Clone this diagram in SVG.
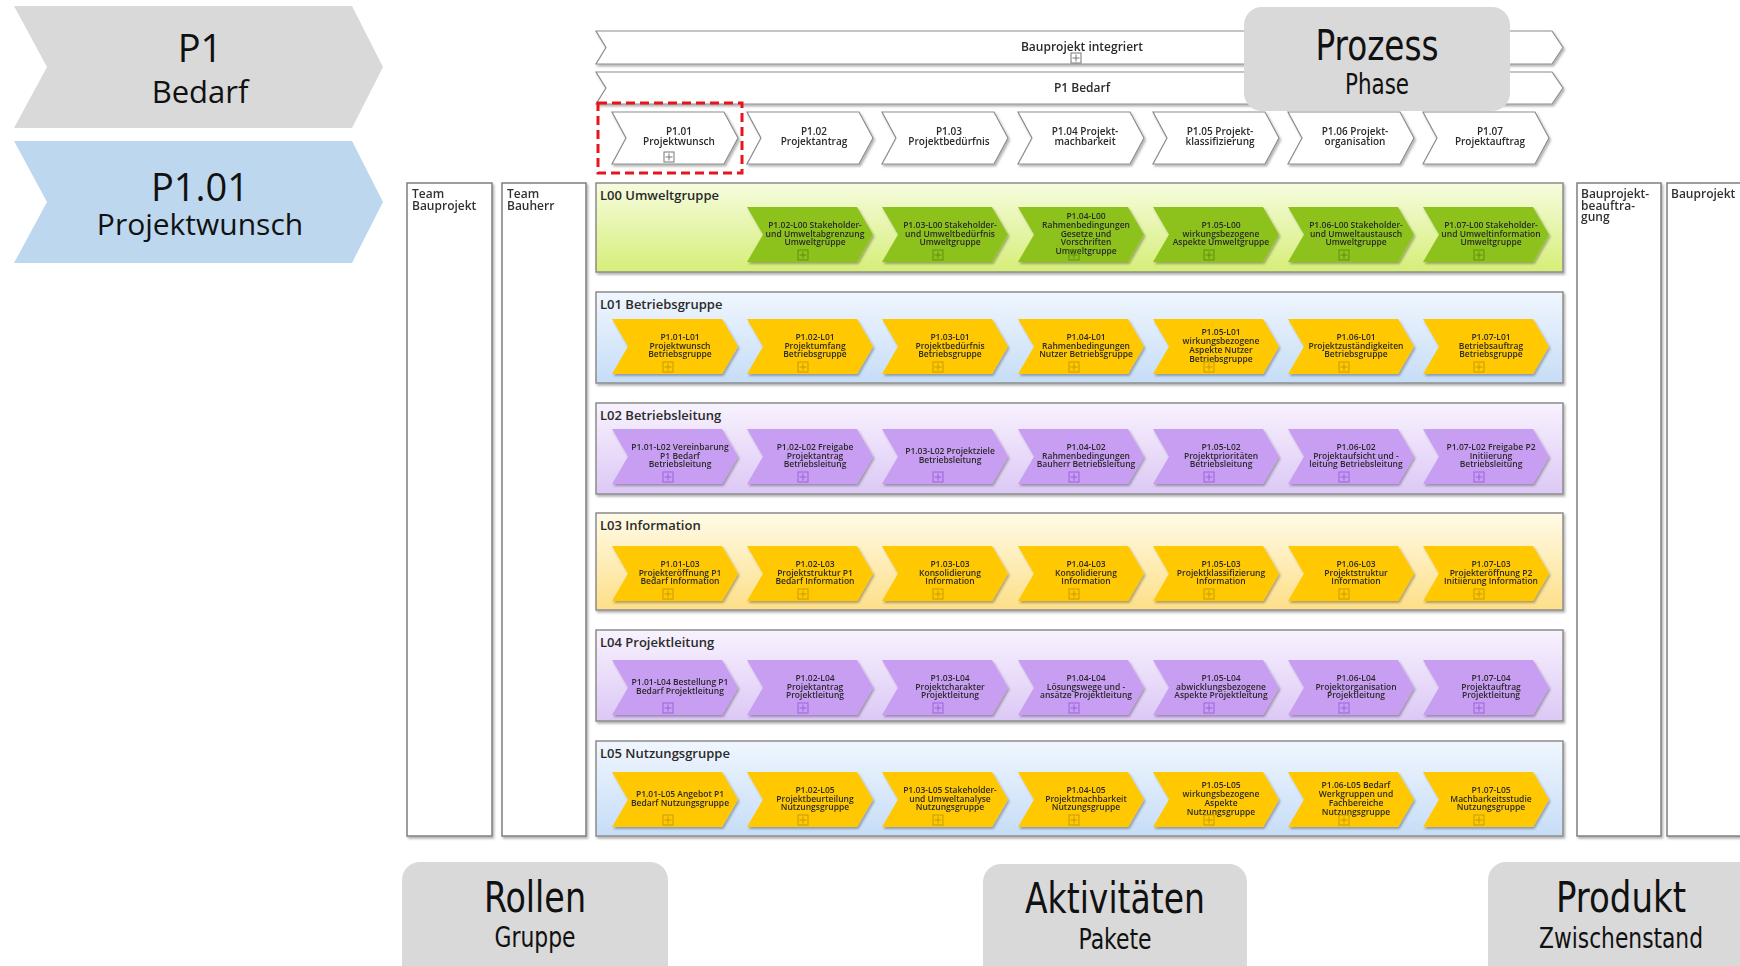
<svg xmlns="http://www.w3.org/2000/svg" xmlns:xlink="http://www.w3.org/1999/xlink" width="1740" height="966" viewBox="0 0 1740 966">
<style>
.big{font-family:"Open Sans","Noto Sans",sans-serif;fill:#111;text-anchor:middle}
.cond{font-family:"Liberation Sans Narrow","DejaVu Sans Condensed","Roboto Condensed","Open Sans",sans-serif;font-stretch:condensed;fill:#111;text-anchor:middle}
.t{font-family:"Open Sans","Noto Sans",sans-serif;font-size:8.5px;font-weight:600;fill:#2a2a2a;text-anchor:middle}
.th{font-family:"Open Sans","Noto Sans",sans-serif;font-size:10px;font-weight:600;fill:#2a2a2a;text-anchor:middle}
.thl{font-family:"Open Sans","Noto Sans",sans-serif;font-size:12px;font-weight:600;fill:#2a2a2a;text-anchor:middle}
.lbl{font-family:"Open Sans","Noto Sans",sans-serif;font-size:13px;font-weight:600;fill:#2a2a2a}
.role{font-family:"Open Sans","Noto Sans",sans-serif;font-size:12px;font-weight:600;fill:#333}
.rbox{fill:#fff;stroke:#7f7f7f;stroke-width:1.5}
.lane{stroke:#8c8c8c;stroke-width:1.5}
.wh{fill:#fff;stroke:#8c8c8c;stroke-width:1.2}
.g{fill:#8dc21f}
.y{fill:#ffc800}
.p{fill:#c89ef2}
.ig{stroke:#5f8f0a;fill:none}
.iy{stroke:#c79a00;fill:none}
.ip{stroke:#9b63dd;fill:none}
.iw{stroke:#777;fill:none}
.card{fill:#d9d9d9}
</style>
<defs>
<filter id="sh" x="-10%" y="-10%" width="130%" height="140%"><feDropShadow dx="1.5" dy="2" stdDeviation="1" flood-color="#000" flood-opacity="0.3"/></filter>
<path id="chev" d="M0,0 H110 L126,27.5 L110,55 H0 L16,27.5 Z"/>
<path id="hchev" d="M0,0 H112 L126,26 L112,52 H0 L14,26 Z"/>
<g id="plus"><rect x="0" y="0" width="10" height="10" stroke-width="1"/><path d="M5,1.5V8.5M1.5,5H8.5" stroke-width="1"/></g>
<linearGradient id="gG" x1="0" y1="0" x2="0" y2="1"><stop offset="0" stop-color="#f6fcdf"/><stop offset="1" stop-color="#d6ee78"/></linearGradient>
<linearGradient id="gB" x1="0" y1="0" x2="0" y2="1"><stop offset="0" stop-color="#f0f6fe"/><stop offset="1" stop-color="#c6ddf7"/></linearGradient>
<linearGradient id="gP" x1="0" y1="0" x2="0" y2="1"><stop offset="0" stop-color="#f8f2fe"/><stop offset="1" stop-color="#dcc8f5"/></linearGradient>
<linearGradient id="gY" x1="0" y1="0" x2="0" y2="1"><stop offset="0" stop-color="#fffbe8"/><stop offset="1" stop-color="#fddf88"/></linearGradient>
</defs>

<!-- Left phase chevrons -->
<g id="phase-P1">
<polygon points="14,6 352,6 383,67 352,128 14,128 47,67" fill="#d9d9d9"/>
<text class="big" x="200" y="62" font-size="38">P1</text>
<text class="big" x="200" y="103" font-size="31">Bedarf</text>
</g>
<g id="phase-P1-01">
<polygon points="14,141 352,141 383,202 352,263 14,263 47,202" fill="#bdd7ee"/>
<text class="big" x="200" y="201" font-size="38">P1.01</text>
<text class="big" x="200" y="235" font-size="30">Projektwunsch</text>
</g>

<!-- Header chevrons -->
<g id="hdr-bauprojekt" filter="url(#sh)">
<path class="wh" d="M596,31 H1552 L1563,47.5 L1552,64 H596 L606,47.5 Z"/>
<text class="thl" x="1082" y="51">Bauprojekt integriert</text>
<use href="#plus" class="iw" x="1071" y="53"/>
</g>
<g id="hdr-p1" filter="url(#sh)">
<path class="wh" d="M596,72 H1552 L1563,88 L1552,104 H596 L606,88 Z"/>
<text class="thl" x="1082" y="92">P1 Bedarf</text>
</g>

<g id="hdr-sub" filter="url(#sh)">
<g id="h1" transform="translate(612,112)"><use href="#hchev" class="wh"/><text class="th"><tspan x="67" y="23">P1.01</tspan><tspan x="67" dy="10">Projektwunsch</tspan></text><use href="#plus" class="iw" x="52" y="40"/></g>
<g id="h2" transform="translate(747,112)"><use href="#hchev" class="wh"/><text class="th"><tspan x="67" y="23">P1.02</tspan><tspan x="67" dy="10">Projektantrag</tspan></text></g>
<g id="h3" transform="translate(882,112)"><use href="#hchev" class="wh"/><text class="th"><tspan x="67" y="23">P1.03</tspan><tspan x="67" dy="10">Projektbedürfnis</tspan></text></g>
<g id="h4" transform="translate(1018,112)"><use href="#hchev" class="wh"/><text class="th"><tspan x="67" y="23">P1.04 Projekt-</tspan><tspan x="67" dy="10">machbarkeit</tspan></text></g>
<g id="h5" transform="translate(1153,112)"><use href="#hchev" class="wh"/><text class="th"><tspan x="67" y="23">P1.05 Projekt-</tspan><tspan x="67" dy="10">klassifizierung</tspan></text></g>
<g id="h6" transform="translate(1288,112)"><use href="#hchev" class="wh"/><text class="th"><tspan x="67" y="23">P1.06 Projekt-</tspan><tspan x="67" dy="10">organisation</tspan></text></g>
<g id="h7" transform="translate(1423,112)"><use href="#hchev" class="wh"/><text class="th"><tspan x="67" y="23">P1.07</tspan><tspan x="67" dy="10">Projektauftrag</tspan></text></g>
</g>
<rect id="highlight" x="598" y="103" width="144" height="70" fill="none" stroke="#e8141b" stroke-width="3" stroke-dasharray="9 5"/>

<g id="card-prozess">
<rect class="card" x="1244" y="7" width="266" height="104" rx="18"/>
<text class="cond" x="1377" y="60" font-size="42" textLength="123" lengthAdjust="spacingAndGlyphs">Prozess</text>
<text class="cond" x="1377" y="94" font-size="28" textLength="64" lengthAdjust="spacingAndGlyphs">Phase</text>
</g>

<!-- Role boxes -->
<g id="role-team-bauprojekt" filter="url(#sh)"><rect class="rbox" x="407" y="183" width="85" height="653"/><text class="role"><tspan x="412" y="198">Team</tspan><tspan x="412" dy="12">Bauprojekt</tspan></text></g>
<g id="role-team-bauherr" filter="url(#sh)"><rect class="rbox" x="502" y="183" width="84" height="653"/><text class="role"><tspan x="507" y="198">Team</tspan><tspan x="507" dy="12">Bauherr</tspan></text></g>
<g id="prod-beauftragung" filter="url(#sh)"><rect class="rbox" x="1577" y="183" width="84" height="653"/><text class="role"><tspan x="1581" y="198">Bauprojekt-</tspan><tspan x="1581" dy="11.5">beauftra-</tspan><tspan x="1581" dy="11.5">gung</tspan></text></g>
<g id="prod-bauprojekt" filter="url(#sh)"><rect class="rbox" x="1667" y="183" width="90" height="653"/><text class="role"><tspan x="1671" y="198">Bauprojekt</tspan></text></g>

<!-- Lanes -->
<g id="lane-L00"><rect class="lane" x="596" y="183" width="967" height="89" fill="url(#gG)" filter="url(#sh)"/><text class="lbl" x="600" y="200">L00 Umweltgruppe</text></g>
<g id="lane-L01"><rect class="lane" x="596" y="292" width="967" height="91" fill="url(#gB)" filter="url(#sh)"/><text class="lbl" x="600" y="309">L01 Betriebsgruppe</text></g>
<g id="lane-L02"><rect class="lane" x="596" y="403" width="967" height="91" fill="url(#gP)" filter="url(#sh)"/><text class="lbl" x="600" y="420">L02 Betriebsleitung</text></g>
<g id="lane-L03"><rect class="lane" x="596" y="513" width="967" height="97" fill="url(#gY)" filter="url(#sh)"/><text class="lbl" x="600" y="530">L03 Information</text></g>
<g id="lane-L04"><rect class="lane" x="596" y="630" width="967" height="91" fill="url(#gP)" filter="url(#sh)"/><text class="lbl" x="600" y="647">L04 Projektleitung</text></g>
<g id="lane-L05"><rect class="lane" x="596" y="741" width="967" height="95" fill="url(#gB)" filter="url(#sh)"/><text class="lbl" x="600" y="758">L05 Nutzungsgruppe</text></g>

<!-- L00 activities -->
<g filter="url(#sh)">
<g id="a-L00-2" transform="translate(747,207)"><use href="#chev" class="g"/><text class="t"><tspan x="68" y="20.7">P1.02-L00 Stakeholder-</tspan><tspan x="68" dy="8.8">und Umweltabgrenzung</tspan><tspan x="68" dy="8.8">Umweltgruppe</tspan></text><use href="#plus" class="ig" x="51" y="43"/></g>
<g id="a-L00-3" transform="translate(882,207)"><use href="#chev" class="g"/><text class="t"><tspan x="68" y="20.7">P1.03-L00 Stakeholder-</tspan><tspan x="68" dy="8.8">und Umweltbedürfnis</tspan><tspan x="68" dy="8.8">Umweltgruppe</tspan></text><use href="#plus" class="ig" x="51" y="43"/></g>
<g id="a-L00-4" transform="translate(1018,207)"><use href="#chev" class="g"/><text class="t"><tspan x="68" y="11.9">P1.04-L00</tspan><tspan x="68" dy="8.8">Rahmenbedingungen</tspan><tspan x="68" dy="8.8">Gesetze und</tspan><tspan x="68" dy="8.8">Vorschriften</tspan><tspan x="68" dy="8.8">Umweltgruppe</tspan></text><use href="#plus" class="ig" x="51" y="43"/></g>
<g id="a-L00-5" transform="translate(1153,207)"><use href="#chev" class="g"/><text class="t"><tspan x="68" y="20.7">P1.05-L00</tspan><tspan x="68" dy="8.8">wirkungsbezogene</tspan><tspan x="68" dy="8.8">Aspekte Umweltgruppe</tspan></text><use href="#plus" class="ig" x="51" y="43"/></g>
<g id="a-L00-6" transform="translate(1288,207)"><use href="#chev" class="g"/><text class="t"><tspan x="68" y="20.7">P1.06-L00 Stakeholder-</tspan><tspan x="68" dy="8.8">und Umweltaustausch</tspan><tspan x="68" dy="8.8">Umweltgruppe</tspan></text><use href="#plus" class="ig" x="51" y="43"/></g>
<g id="a-L00-7" transform="translate(1423,207)"><use href="#chev" class="g"/><text class="t"><tspan x="68" y="20.7">P1.07-L00 Stakeholder-</tspan><tspan x="68" dy="8.8">und Umweltinformation</tspan><tspan x="68" dy="8.8">Umweltgruppe</tspan></text><use href="#plus" class="ig" x="51" y="43"/></g>
</g>

<!-- L01 activities -->
<g filter="url(#sh)">
<g id="a-L01-1" transform="translate(612,319)"><use href="#chev" class="y"/><text class="t"><tspan x="68" y="20.7">P1.01-L01</tspan><tspan x="68" dy="8.8">Projektwunsch</tspan><tspan x="68" dy="8.8">Betriebsgruppe</tspan></text><use href="#plus" class="iy" x="51" y="43"/></g>
<g id="a-L01-2" transform="translate(747,319)"><use href="#chev" class="y"/><text class="t"><tspan x="68" y="20.7">P1.02-L01</tspan><tspan x="68" dy="8.8">Projektumfang</tspan><tspan x="68" dy="8.8">Betriebsgruppe</tspan></text><use href="#plus" class="iy" x="51" y="43"/></g>
<g id="a-L01-3" transform="translate(882,319)"><use href="#chev" class="y"/><text class="t"><tspan x="68" y="20.7">P1.03-L01</tspan><tspan x="68" dy="8.8">Projektbedürfnis</tspan><tspan x="68" dy="8.8">Betriebsgruppe</tspan></text><use href="#plus" class="iy" x="51" y="43"/></g>
<g id="a-L01-4" transform="translate(1018,319)"><use href="#chev" class="y"/><text class="t"><tspan x="68" y="20.7">P1.04-L01</tspan><tspan x="68" dy="8.8">Rahmenbedingungen</tspan><tspan x="68" dy="8.8">Nutzer Betriebsgruppe</tspan></text><use href="#plus" class="iy" x="51" y="43"/></g>
<g id="a-L01-5" transform="translate(1153,319)"><use href="#chev" class="y"/><text class="t"><tspan x="68" y="16.3">P1.05-L01</tspan><tspan x="68" dy="8.8">wirkungsbezogene</tspan><tspan x="68" dy="8.8">Aspekte Nutzer</tspan><tspan x="68" dy="8.8">Betriebsgruppe</tspan></text><use href="#plus" class="iy" x="51" y="43"/></g>
<g id="a-L01-6" transform="translate(1288,319)"><use href="#chev" class="y"/><text class="t"><tspan x="68" y="20.7">P1.06-L01</tspan><tspan x="68" dy="8.8">Projektzuständigkeiten</tspan><tspan x="68" dy="8.8">Betriebsgruppe</tspan></text><use href="#plus" class="iy" x="51" y="43"/></g>
<g id="a-L01-7" transform="translate(1423,319)"><use href="#chev" class="y"/><text class="t"><tspan x="68" y="20.7">P1.07-L01</tspan><tspan x="68" dy="8.8">Betriebsauftrag</tspan><tspan x="68" dy="8.8">Betriebsgruppe</tspan></text><use href="#plus" class="iy" x="51" y="43"/></g>
</g>

<!-- L02 activities -->
<g filter="url(#sh)">
<g id="a-L02-1" transform="translate(612,429)"><use href="#chev" class="p"/><text class="t"><tspan x="68" y="20.7">P1.01-L02 Vereinbarung</tspan><tspan x="68" dy="8.8">P1 Bedarf</tspan><tspan x="68" dy="8.8">Betriebsleitung</tspan></text><use href="#plus" class="ip" x="51" y="43"/></g>
<g id="a-L02-2" transform="translate(747,429)"><use href="#chev" class="p"/><text class="t"><tspan x="68" y="20.7">P1.02-L02 Freigabe</tspan><tspan x="68" dy="8.8">Projektantrag</tspan><tspan x="68" dy="8.8">Betriebsleitung</tspan></text><use href="#plus" class="ip" x="51" y="43"/></g>
<g id="a-L02-3" transform="translate(882,429)"><use href="#chev" class="p"/><text class="t"><tspan x="68" y="25.1">P1.03-L02 Projektziele</tspan><tspan x="68" dy="8.8">Betriebsleitung</tspan></text><use href="#plus" class="ip" x="51" y="43"/></g>
<g id="a-L02-4" transform="translate(1018,429)"><use href="#chev" class="p"/><text class="t"><tspan x="68" y="20.7">P1.04-L02</tspan><tspan x="68" dy="8.8">Rahmenbedingungen</tspan><tspan x="68" dy="8.8">Bauherr Betriebsleitung</tspan></text><use href="#plus" class="ip" x="51" y="43"/></g>
<g id="a-L02-5" transform="translate(1153,429)"><use href="#chev" class="p"/><text class="t"><tspan x="68" y="20.7">P1.05-L02</tspan><tspan x="68" dy="8.8">Projektprioritäten</tspan><tspan x="68" dy="8.8">Betriebsleitung</tspan></text><use href="#plus" class="ip" x="51" y="43"/></g>
<g id="a-L02-6" transform="translate(1288,429)"><use href="#chev" class="p"/><text class="t"><tspan x="68" y="20.7">P1.06-L02</tspan><tspan x="68" dy="8.8">Projektaufsicht und -</tspan><tspan x="68" dy="8.8">leitung Betriebsleitung</tspan></text><use href="#plus" class="ip" x="51" y="43"/></g>
<g id="a-L02-7" transform="translate(1423,429)"><use href="#chev" class="p"/><text class="t"><tspan x="68" y="20.7">P1.07-L02 Freigabe P2</tspan><tspan x="68" dy="8.8">Initiierung</tspan><tspan x="68" dy="8.8">Betriebsleitung</tspan></text><use href="#plus" class="ip" x="51" y="43"/></g>
</g>

<!-- L03 activities -->
<g filter="url(#sh)">
<g id="a-L03-1" transform="translate(612,546)"><use href="#chev" class="y"/><text class="t"><tspan x="68" y="20.7">P1.01-L03</tspan><tspan x="68" dy="8.8">Projekteröffnung P1</tspan><tspan x="68" dy="8.8">Bedarf Information</tspan></text><use href="#plus" class="iy" x="51" y="43"/></g>
<g id="a-L03-2" transform="translate(747,546)"><use href="#chev" class="y"/><text class="t"><tspan x="68" y="20.7">P1.02-L03</tspan><tspan x="68" dy="8.8">Projektstruktur P1</tspan><tspan x="68" dy="8.8">Bedarf Information</tspan></text><use href="#plus" class="iy" x="51" y="43"/></g>
<g id="a-L03-3" transform="translate(882,546)"><use href="#chev" class="y"/><text class="t"><tspan x="68" y="20.7">P1.03-L03</tspan><tspan x="68" dy="8.8">Konsolidierung</tspan><tspan x="68" dy="8.8">Information</tspan></text><use href="#plus" class="iy" x="51" y="43"/></g>
<g id="a-L03-4" transform="translate(1018,546)"><use href="#chev" class="y"/><text class="t"><tspan x="68" y="20.7">P1.04-L03</tspan><tspan x="68" dy="8.8">Konsolidierung</tspan><tspan x="68" dy="8.8">Information</tspan></text><use href="#plus" class="iy" x="51" y="43"/></g>
<g id="a-L03-5" transform="translate(1153,546)"><use href="#chev" class="y"/><text class="t"><tspan x="68" y="20.7">P1.05-L03</tspan><tspan x="68" dy="8.8">Projektklassifizierung</tspan><tspan x="68" dy="8.8">Information</tspan></text><use href="#plus" class="iy" x="51" y="43"/></g>
<g id="a-L03-6" transform="translate(1288,546)"><use href="#chev" class="y"/><text class="t"><tspan x="68" y="20.7">P1.06-L03</tspan><tspan x="68" dy="8.8">Projektstruktur</tspan><tspan x="68" dy="8.8">Information</tspan></text><use href="#plus" class="iy" x="51" y="43"/></g>
<g id="a-L03-7" transform="translate(1423,546)"><use href="#chev" class="y"/><text class="t"><tspan x="68" y="20.7">P1.07-L03</tspan><tspan x="68" dy="8.8">Projekteröffnung P2</tspan><tspan x="68" dy="8.8">Initiierung Information</tspan></text><use href="#plus" class="iy" x="51" y="43"/></g>
</g>

<!-- L04 activities -->
<g filter="url(#sh)">
<g id="a-L04-1" transform="translate(612,660)"><use href="#chev" class="p"/><text class="t"><tspan x="68" y="25.1">P1.01-L04 Bestellung P1</tspan><tspan x="68" dy="8.8">Bedarf Projektleitung</tspan></text><use href="#plus" class="ip" x="51" y="43"/></g>
<g id="a-L04-2" transform="translate(747,660)"><use href="#chev" class="p"/><text class="t"><tspan x="68" y="20.7">P1.02-L04</tspan><tspan x="68" dy="8.8">Projektantrag</tspan><tspan x="68" dy="8.8">Projektleitung</tspan></text><use href="#plus" class="ip" x="51" y="43"/></g>
<g id="a-L04-3" transform="translate(882,660)"><use href="#chev" class="p"/><text class="t"><tspan x="68" y="20.7">P1.03-L04</tspan><tspan x="68" dy="8.8">Projektcharakter</tspan><tspan x="68" dy="8.8">Projektleitung</tspan></text><use href="#plus" class="ip" x="51" y="43"/></g>
<g id="a-L04-4" transform="translate(1018,660)"><use href="#chev" class="p"/><text class="t"><tspan x="68" y="20.7">P1.04-L04</tspan><tspan x="68" dy="8.8">Lösungswege und -</tspan><tspan x="68" dy="8.8">ansätze Projektleitung</tspan></text><use href="#plus" class="ip" x="51" y="43"/></g>
<g id="a-L04-5" transform="translate(1153,660)"><use href="#chev" class="p"/><text class="t"><tspan x="68" y="20.7">P1.05-L04</tspan><tspan x="68" dy="8.8">abwicklungsbezogene</tspan><tspan x="68" dy="8.8">Aspekte Projektleitung</tspan></text><use href="#plus" class="ip" x="51" y="43"/></g>
<g id="a-L04-6" transform="translate(1288,660)"><use href="#chev" class="p"/><text class="t"><tspan x="68" y="20.7">P1.06-L04</tspan><tspan x="68" dy="8.8">Projektorganisation</tspan><tspan x="68" dy="8.8">Projektleitung</tspan></text><use href="#plus" class="ip" x="51" y="43"/></g>
<g id="a-L04-7" transform="translate(1423,660)"><use href="#chev" class="p"/><text class="t"><tspan x="68" y="20.7">P1.07-L04</tspan><tspan x="68" dy="8.8">Projektauftrag</tspan><tspan x="68" dy="8.8">Projektleitung</tspan></text><use href="#plus" class="ip" x="51" y="43"/></g>
</g>

<!-- L05 activities -->
<g filter="url(#sh)">
<g id="a-L05-1" transform="translate(612,772)"><use href="#chev" class="y"/><text class="t"><tspan x="68" y="25.1">P1.01-L05 Angebot P1</tspan><tspan x="68" dy="8.8">Bedarf Nutzungsgruppe</tspan></text><use href="#plus" class="iy" x="51" y="43"/></g>
<g id="a-L05-2" transform="translate(747,772)"><use href="#chev" class="y"/><text class="t"><tspan x="68" y="20.7">P1.02-L05</tspan><tspan x="68" dy="8.8">Projektbeurteilung</tspan><tspan x="68" dy="8.8">Nutzungsgruppe</tspan></text><use href="#plus" class="iy" x="51" y="43"/></g>
<g id="a-L05-3" transform="translate(882,772)"><use href="#chev" class="y"/><text class="t"><tspan x="68" y="20.7">P1.03-L05 Stakeholder-</tspan><tspan x="68" dy="8.8">und Umweltanalyse</tspan><tspan x="68" dy="8.8">Nutzungsgruppe</tspan></text><use href="#plus" class="iy" x="51" y="43"/></g>
<g id="a-L05-4" transform="translate(1018,772)"><use href="#chev" class="y"/><text class="t"><tspan x="68" y="20.7">P1.04-L05</tspan><tspan x="68" dy="8.8">Projektmachbarkeit</tspan><tspan x="68" dy="8.8">Nutzungsgruppe</tspan></text><use href="#plus" class="iy" x="51" y="43"/></g>
<g id="a-L05-5" transform="translate(1153,772)"><use href="#chev" class="y"/><text class="t"><tspan x="68" y="16.3">P1.05-L05</tspan><tspan x="68" dy="8.8">wirkungsbezogene</tspan><tspan x="68" dy="8.8">Aspekte</tspan><tspan x="68" dy="8.8">Nutzungsgruppe</tspan></text><use href="#plus" class="iy" x="51" y="43"/></g>
<g id="a-L05-6" transform="translate(1288,772)"><use href="#chev" class="y"/><text class="t"><tspan x="68" y="16.3">P1.06-L05 Bedarf</tspan><tspan x="68" dy="8.8">Werkgruppen und</tspan><tspan x="68" dy="8.8">Fachbereiche</tspan><tspan x="68" dy="8.8">Nutzungsgruppe</tspan></text><use href="#plus" class="iy" x="51" y="43"/></g>
<g id="a-L05-7" transform="translate(1423,772)"><use href="#chev" class="y"/><text class="t"><tspan x="68" y="20.7">P1.07-L05</tspan><tspan x="68" dy="8.8">Machbarkeitsstudie</tspan><tspan x="68" dy="8.8">Nutzungsgruppe</tspan></text><use href="#plus" class="iy" x="51" y="43"/></g>
</g>

<g id="connectors"/>

<!-- Bottom cards -->
<g id="card-rollen">
<rect class="card" x="402" y="862" width="266" height="130" rx="18"/>
<text class="cond" x="535" y="912" font-size="42" textLength="102" lengthAdjust="spacingAndGlyphs">Rollen</text>
<text class="cond" x="535" y="947" font-size="28" textLength="81" lengthAdjust="spacingAndGlyphs">Gruppe</text>
</g>
<g id="card-aktivitaeten">
<rect class="card" x="983" y="864" width="264" height="130" rx="18"/>
<text class="cond" x="1115" y="913" font-size="42" textLength="180" lengthAdjust="spacingAndGlyphs">Aktivitäten</text>
<text class="cond" x="1115" y="949" font-size="28" textLength="73" lengthAdjust="spacingAndGlyphs">Pakete</text>
</g>
<g id="card-produkt">
<rect class="card" x="1488" y="862" width="280" height="130" rx="18"/>
<text class="cond" x="1621" y="912" font-size="42" textLength="130" lengthAdjust="spacingAndGlyphs">Produkt</text>
<text class="cond" x="1621" y="948" font-size="28" textLength="164" lengthAdjust="spacingAndGlyphs">Zwischenstand</text>
</g>
</svg>
